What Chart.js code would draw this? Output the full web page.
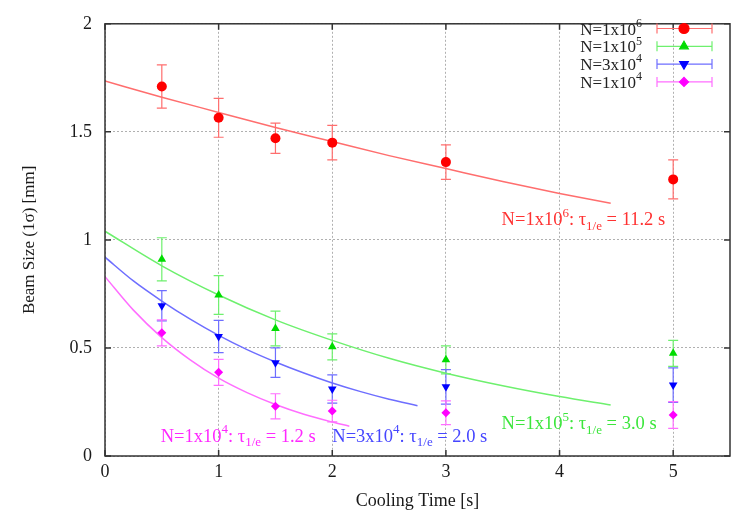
<!DOCTYPE html>
<html>
<head>
<meta charset="utf-8">
<script src="https://cdn.jsdelivr.net/npm/chart.js@4/dist/chart.umd.min.js"></script>
<style>
html,body{margin:0;padding:0;background:#fff;overflow:hidden;}
#wrap{width:731px;height:515px;overflow:hidden;}
</style>
</head>
<body>
<div id="wrap"><canvas id="c" width="735" height="515"></canvas></div>
<script>
// ---- data ----
const times = [0.5, 1, 1.5, 2, 3, 5];
const sizeN1e6 = [1.71, 1.565, 1.47, 1.45, 1.36, 1.28];
const errN1e6  = [0.10, 0.09, 0.07, 0.08, 0.08, 0.09];
const sizeN1e5 = [0.91, 0.745, 0.59, 0.505, 0.445, 0.475];
const errN1e5  = [0.10, 0.09, 0.08, 0.06, 0.065, 0.06];
const sizeN3e4 = [0.695, 0.553, 0.432, 0.31, 0.32, 0.328];
const errN3e4  = [0.07, 0.075, 0.068, 0.065, 0.08, 0.08];
const sizeN1e4 = [0.57, 0.387, 0.23, 0.208, 0.2, 0.19];
const errN1e4  = [0.06, 0.06, 0.058, 0.05, 0.055, 0.062];

// fit curves
const fitN1e6X = [0, 0.5, 1, 1.5, 2, 2.5, 3, 3.5, 4, 4.45];
const fitN1e6Y = [1.735, 1.66, 1.59, 1.52, 1.455, 1.39, 1.33, 1.27, 1.215, 1.17];
const fitN1e5X = [0, 0.5, 1, 1.5, 2, 2.5, 3, 3.5, 4, 4.45];
const fitN1e5Y = [1.04, 0.88, 0.745, 0.63, 0.535, 0.452, 0.383, 0.325, 0.275, 0.236];
const fitN3e4X = [0, 0.25, 0.5, 0.75, 1, 1.25, 1.5, 1.75, 2, 2.25, 2.5, 2.75];
const fitN3e4Y = [0.92, 0.81, 0.717, 0.633, 0.558, 0.492, 0.435, 0.384, 0.338, 0.298, 0.263, 0.233];
const fitN1e4X = [0, 0.25, 0.5, 0.75, 1, 1.25, 1.5, 1.75, 2, 2.15];
const fitN1e4Y = [0.83, 0.675, 0.548, 0.445, 0.36, 0.293, 0.238, 0.193, 0.157, 0.138];

const legendLabels = [["N=1x10","6"],["N=1x10","5"],["N=3x10","4"],["N=1x10","4"]];
const fitLabels = [
  {exp:"6", base:"N=1x10", tau:"11.2", x:3.49, y:1.097},
  {exp:"5", base:"N=1x10", tau:"3.0",  x:3.49, y:0.153},
  {exp:"4", base:"N=3x10", tau:"2.0",  x:2.0,  y:0.094},
  {exp:"4", base:"N=1x10", tau:"1.2",  x:0.49, y:0.094}
];

const FONT = '"Liberation Serif", "DejaVu Serif", serif';
const markerCol = ['rgb(255,0,0)','rgb(0,220,0)','rgb(0,0,255)','rgb(255,0,255)'];
const lineCol = ['rgb(255,110,110)','rgb(110,240,110)','rgb(110,110,255)','rgb(255,110,255)'];
const textCol = ['rgb(255,50,50)','rgb(60,230,60)','rgb(70,70,255)','rgb(255,40,255)'];
const styles = ['circle','triangle','triangle','rectRot'];
const rotations = [0,0,180,0];
const radii = [5,5,5,4.5];

const sizes = [sizeN1e6,sizeN1e5,sizeN3e4,sizeN1e4];
const errs = [errN1e6,errN1e5,errN3e4,errN1e4];
const fitX = [fitN1e6X,fitN1e5X,fitN3e4X,fitN1e4X];
const fitY = [fitN1e6Y,fitN1e5Y,fitN3e4Y,fitN1e4Y];

const datasets = [];
for (let i=0;i<4;i++){
  datasets.push({
    type:'line', label:'fit'+i,
    data: fitX[i].map((x,k)=>({x:x,y:fitY[i][k]})),
    borderColor: lineCol[i], borderWidth:1.5, pointRadius:0,
    cubicInterpolationMode:'monotone', fill:false, order:2
  });
}
for (let i=0;i<4;i++){
  datasets.push({
    type:'scatter', label:'data'+i,
    data: times.map((x,k)=>({x:x,y:sizes[i][k]})),
    backgroundColor: markerCol[i], borderColor: markerCol[i], borderWidth:0,
    pointStyle: styles[i], pointRotation: rotations[i], pointRadius: radii[i],
    order:1
  });
}

function drawRich(ctx, x, y, parts, color, size){
  const s = size || 18, ss = Math.round(s*0.72);
  ctx.save();
  ctx.fillStyle = color;
  ctx.textBaseline = 'alphabetic';
  ctx.textAlign = 'left';
  let cx = x;
  for (const [t,m] of parts){
    if (m==='n'){ ctx.font = s+'px '+FONT; ctx.fillText(t,cx,y); }
    else if (m==='sup'){ ctx.font = ss+'px '+FONT; ctx.fillText(t,cx,y-s*0.45); }
    else { ctx.font = ss+'px '+FONT; ctx.fillText(t,cx,y+s*0.25); }
    cx += ctx.measureText(t).width;
  }
  ctx.restore();
  return cx - x;
}
function richWidth(ctx, parts, size){
  const s = size || 18, ss = Math.round(s*0.72);
  let w=0;
  ctx.save();
  for (const [t,m] of parts){
    ctx.font = (m==='n'? s : ss)+'px '+FONT;
    w += ctx.measureText(t).width;
  }
  ctx.restore();
  return w;
}

const errorBars = {
  id:'errorBars',
  beforeDatasetsDraw(chart){
    const ctx = chart.ctx, xs = chart.scales.x, ys = chart.scales.y;
    ctx.save();
    ctx.lineWidth = 1.2;
    for (let i=0;i<4;i++){
      ctx.strokeStyle = lineCol[i];
      for (let k=0;k<times.length;k++){
        const px = xs.getPixelForValue(times[k]);
        const top = ys.getPixelForValue(sizes[i][k]+errs[i][k]);
        const bot = ys.getPixelForValue(sizes[i][k]-errs[i][k]);
        ctx.beginPath();
        ctx.moveTo(px,top); ctx.lineTo(px,bot);
        ctx.moveTo(px-5,top); ctx.lineTo(px+5,top);
        ctx.moveTo(px-5,bot); ctx.lineTo(px+5,bot);
        ctx.stroke();
      }
    }
    ctx.restore();
  }
};

const legendRows = [28.5, 46.3, 64.1, 81.9];

const frame = {
  id:'frame',
  afterDatasetsDraw(chart){
    const ctx = chart.ctx, a = chart.chartArea, xs = chart.scales.x, ys = chart.scales.y;
    ctx.save();
    ctx.strokeStyle = '#333';
    ctx.lineWidth = 1.5;
    ctx.strokeRect(a.left, a.top, a.right-a.left, a.bottom-a.top);
    ctx.beginPath();
    xs.ticks.forEach(t=>{
      const px = xs.getPixelForValue(t.value);
      ctx.moveTo(px,a.bottom); ctx.lineTo(px,a.bottom-6);
      ctx.moveTo(px,a.top); ctx.lineTo(px,a.top+6);
    });
    ys.ticks.forEach(t=>{
      const py = ys.getPixelForValue(t.value);
      ctx.moveTo(a.left,py); ctx.lineTo(a.left+6,py);
      ctx.moveTo(a.right,py); ctx.lineTo(a.right-6,py);
    });
    ctx.stroke();
    ctx.restore();
  },
  afterDraw(chart){
    const ctx = chart.ctx, xs = chart.scales.x, ys = chart.scales.y;
    // fit annotations
    fitLabels.forEach((f,i)=>{
      const px = xs.getPixelForValue(f.x), py = ys.getPixelForValue(f.y)+6;
      drawRich(ctx, px, py, [[f.base,'n'],[f.exp,'sup'],[': \u03c4','n'],['1/e','sub'],[' = '+f.tau+' s','n']], textCol[i], 18.5);
    });
    // legend
    legendLabels.forEach((l,i)=>{
      const parts = [[l[0],'n'],[l[1],'sup']];
      const w = richWidth(ctx, parts, 17);
      const y = legendRows[i];
      drawRich(ctx, 642 - w, y+6, parts, '#222', 17);
      ctx.save();
      ctx.strokeStyle = lineCol[i]; ctx.lineWidth = 1.2;
      ctx.beginPath();
      ctx.moveTo(657,y); ctx.lineTo(712,y);
      ctx.moveTo(657,y-5); ctx.lineTo(657,y+5);
      ctx.moveTo(712,y-5); ctx.lineTo(712,y+5);
      ctx.stroke();
      ctx.fillStyle = markerCol[i]; ctx.strokeStyle = markerCol[i];
      Chart.helpers.drawPoint(ctx, {pointStyle:styles[i], rotation:rotations[i], radius:radii[i], borderWidth:0.01}, 684, y);
      ctx.restore();
    });
  }
};

new Chart(document.getElementById('c'), {
  data: { datasets: datasets },
  options: {
    responsive:false, animation:false,
    layout:{ padding:{ top:11, right:0, left:0, bottom:0 } },
    plugins:{ legend:{display:false}, tooltip:{enabled:false} },
    scales:{
      x:{
        type:'linear', min:0, max:5.5,
        ticks:{ stepSize:1, color:'#1a1a1a', font:{family:FONT, size:18}, padding:5, maxRotation:0 },
        afterBuildTicks(s){ s.ticks = s.ticks.filter(t=>t.value<=5.0001); },
        afterFit(s){ s.height = 59; },
        grid:{ color:'#b0b0b0', lineWidth:1, drawTicks:false },
        border:{ display:false, dash:[2,2] },
        title:{ display:true, text:'Cooling Time [s]', color:'#1a1a1a', font:{family:FONT, size:18}, padding:{top:0,bottom:3} }
      },
      y:{
        type:'linear', min:0, max:2,
        ticks:{ stepSize:0.5, color:'#1a1a1a', font:{family:FONT, size:18}, padding:13,
                callback:(v)=>String(v) },
        afterFit(s){ s.width = 105; },
        grid:{ color:'#b0b0b0', lineWidth:1, drawTicks:false },
        border:{ display:false, dash:[2,2] },
        title:{ display:true, text:'Beam Size (1\u03c3) [mm]', color:'#1a1a1a', font:{family:FONT, size:17}, padding:{top:19,bottom:0} }
      }
    }
  },
  plugins:[errorBars, frame]
});
</script>
</body>
</html>
